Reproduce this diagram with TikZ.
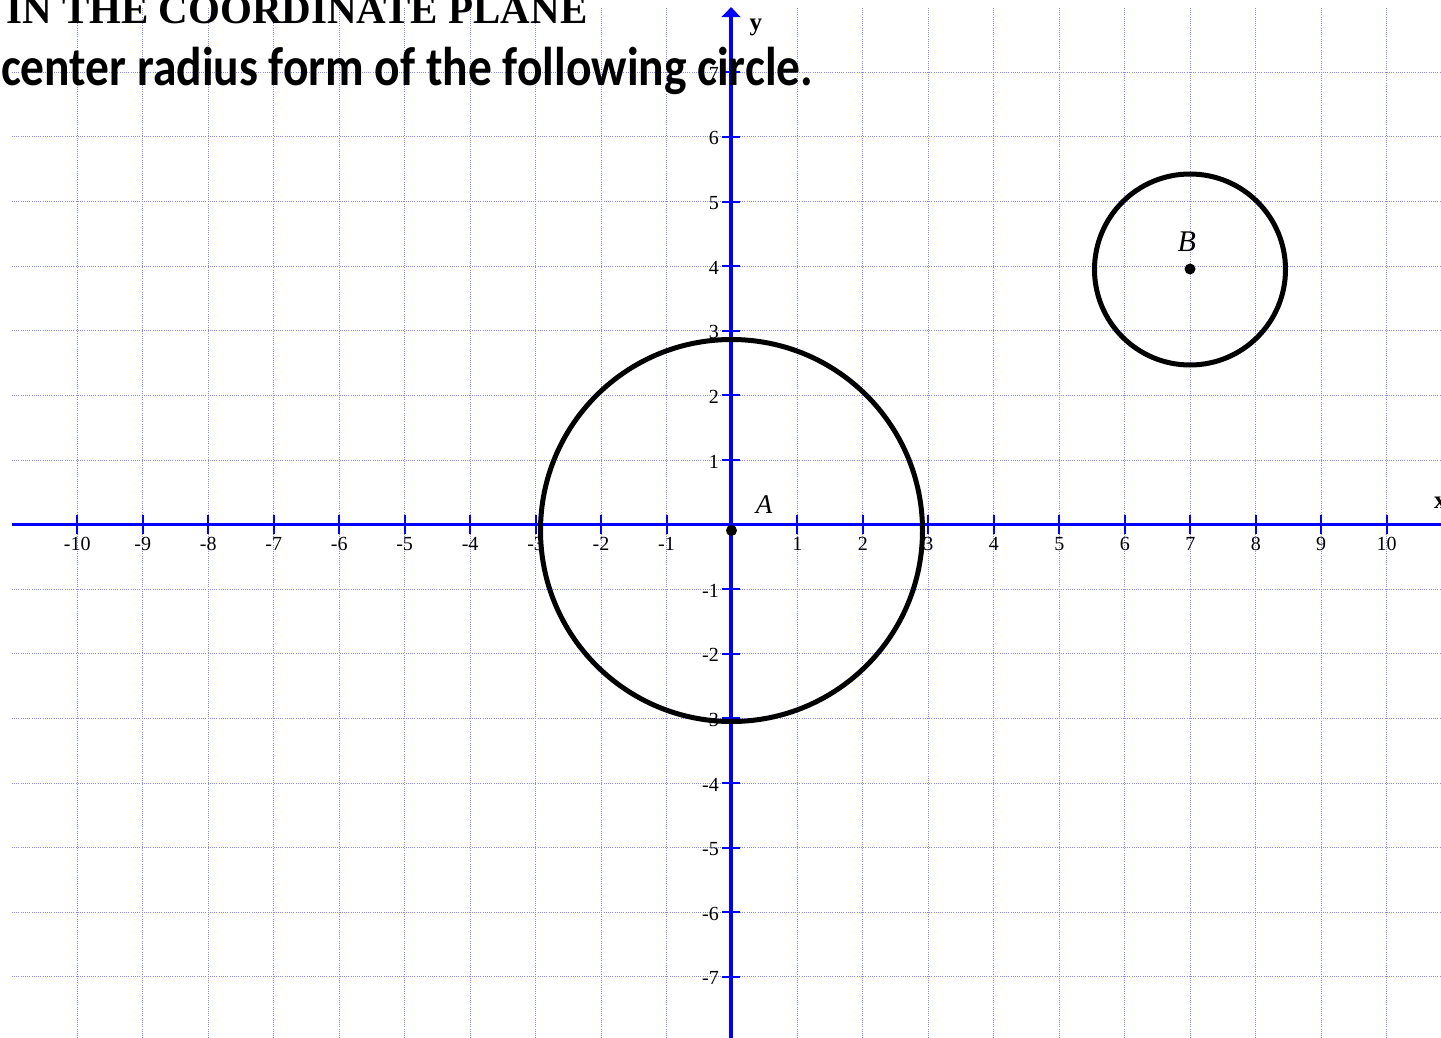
\documentclass[tikz,border=0pt]{standalone}
\usepackage{fontspec}
\setmainfont{Liberation Serif}
\newfontfamily\carlito{Carlito}
\usetikzlibrary{arrows.meta}
\definecolor{axisblue}{RGB}{0,0,255}
\definecolor{gridblue}{RGB}{135,135,255}
\begin{document}
\begin{tikzpicture}[x=1pt,y=-1pt,
  gridline/.style={gridblue, line width=1pt, dash pattern=on 1pt off 1.2pt},
  axisline/.style={axisblue, line width=3.2pt},
  tickmark/.style={axisblue, line width=2pt},
  ticklabel/.style={font=\fontsize{20}{20}\selectfont, inner sep=0pt},
  axisname/.style={font=\fontsize{25}{25}\selectfont\bfseries, inner sep=0pt},
  ptlabel/.style={font=\itshape, inner sep=0pt},
  ring/.style={black, line width=5pt},
  dotmark/.style={fill=black}
]
\useasboundingbox (0,0) rectangle (1441,1038);
\begin{scope}[xshift=732pt, yshift=-524.6pt, x=65.47pt, y=64.6pt]
  % grid
  \foreach \i in {-10,...,10} \draw[gridline] (\i,8) -- (\i,-8.2);
  \foreach \j in {-7,...,7} \draw[gridline] (-11,\j) -- (11.2,\j);
  % axes
  \coordinate (xstart) at (-11,0);
  \coordinate (xend) at (11,0);
  \coordinate (ystart) at (-0.015,-8.2);
  \coordinate (yend) at (-0.015,8.01);
  \draw[axisline] (xstart) -- (xend);
  \draw[axisline, -{Triangle[width=19pt,length=10pt]}] (ystart) -- (yend);
  % x ticks and labels
  \foreach \i in {-10,...,-1,1,2,...,10} {
    \draw[tickmark] (\i,0) ++(0,9.5pt) -- ++(0,-19pt);
    \node[ticklabel, anchor=base, yshift=-25.4pt, name=xl\i] at (\i,0) {\i};
  }
  % y ticks and labels
  \foreach \j in {-7,...,-1,1,2,...,7} {
    \draw[tickmark] (-0.015,\j) ++(-9pt,0) -- ++(18pt,0);
    \node[ticklabel, anchor=base east, xshift=-12pt, yshift=-8pt, name=yl\j] at (-0.015,\j) {\j};
  }
\end{scope}
% axis names
\node[axisname, anchor=base west] (ylab) at (749.5,30.5) {y};
\node[axisname, anchor=base west] (xlab) at (1434,508.3) {x};
% circles
\draw[ring] (731.5,530.5) circle[radius=191pt];
\draw[ring] (1190,269.5) circle[radius=95.5pt];
\fill[dotmark] (731.5,530.5) circle[radius=5.5pt];
\fill[dotmark] (1190,269) circle[radius=5.5pt];
\node[ptlabel, font=\fontsize{27}{27}\selectfont\itshape, anchor=base] (lA) at (764,513) {A};
\node[ptlabel, font=\fontsize{30}{30}\selectfont\itshape, anchor=base] (lB) at (1186.7,251.7) {B};
% title text
\node[anchor=base west, inner sep=0pt, font=\fontsize{41}{41}\selectfont\bfseries] (title1) at (6,23.3) {IN THE COORDINATE PLANE};
\node[anchor=base east, inner sep=0pt, yscale=1.15, transform shape, font=\carlito\bfseries\fontsize{47.5}{47.5}\selectfont] (title2) at (813.5,86) {center radius form of the following circle.};
\end{tikzpicture}
\end{document}
